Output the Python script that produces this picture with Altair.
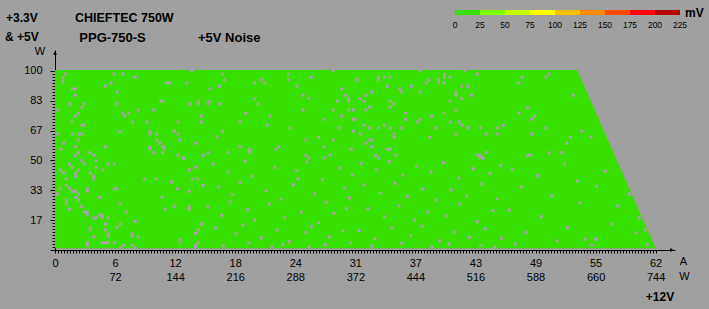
import altair as alt
import pandas as pd

# ---------------- data ----------------
amp_labels = ["0", "6", "12", "18", "24", "31", "37", "43", "49", "55", "62"]
watt12_labels = ["", "72", "144", "216", "288", "372", "444", "516", "588", "660", "744"]
w5_labels = ["17", "33", "50", "67", "83", "100"]

# tested region: +12V current limit at the bottom and top +3.3V&+5V load
edge_w = [1.0, 100.6]
edge_a = [62.0, 53.9]

# noise colour scale (mV)
legend_mv = [0, 25, 50, 75, 100, 125, 150, 175, 200, 225]
legend_colors = ["#38de00", "#80ff00", "#c0ff00", "#ffff00", "#ffc000",
                 "#ff8c00", "#ff4800", "#ff0000", "#b40000"]

# gray (missing) measurement points, (A, W)
specks_ul = [(1.1,98.3),(0.8,96.1),(0.8,93.9),(6.1,98.3),(7.0,98.3),(8.3,96.5),(5.8,93.3),(5.2,91.5),
    (11.5,93.3),(11.8,93.3),(13.6,93.3),(14.1,100.2),(1.8,90.0),(2.1,90.0),(2.1,86.4),(6.4,88.3),
    (10.9,83.1),(11.1,83.1),(14.8,83.1),(14.8,81.6),(13.9,81.6),(1.5,81.6),(3.0,81.6),(2.8,79.7),
    (6.4,81.6),(0.3,78.2),(2.4,76.4),(2.1,74.7),(7.0,76.4),(7.2,74.7),(7.6,76.4),(8.6,78.2),
    (10.2,78.2),(1.8,71.5),(2.8,69.7),(3.0,69.7),(8.0,71.5),(9.5,71.5),(12.7,71.5),(15.1,74.7),
    (15.1,71.5),(6.7,66.3),(9.8,66.3),(9.8,64.8),(12.3,66.3),(12.7,64.8),(0.3,64.8),(1.8,64.8),
    (2.5,64.8),(2.8,64.8),(10.5,64.8),(2.4,61.5),(10.5,61.5),(12.9,61.5),(0.9,59.6),(10.8,59.6),
    (11.1,57.7),(11.3,57.7),(11.3,56.3),(14.5,59.6),(2.1,57.7),(5.2,57.7),(9.8,57.7),(9.8,56.3),
    (0.6,56.3),(2.4,54.4),(3.6,54.4),(10.2,54.4),(11.1,54.4),(2.1,52.9),(4.0,52.9),(12.7,52.9),
    (13.3,51.4),(15.3,52.9)]
specks_um = [(17.3,98.3),(17.5,95.0),(17.0,91.5),(16.0,90.0),(20.6,93.3),(21.3,95.0),(21.6,93.3),
    (24.1,98.3),(24.1,95.0),(25.0,91.5),(26.5,96.5),(28.7,100.2),(29.6,90.0),(30.0,86.4),(30.3,84.6),
    (30.3,83.1),(29.1,83.1),(16.0,83.1),(15.8,81.6),(17.0,81.6),(20.6,84.6),(21.0,81.6),(25.6,86.4),
    (26.2,84.6),(19.7,76.4),(19.1,71.5),(22.2,74.7),(21.9,69.7),(25.6,78.2),(28.7,78.2),(30.3,78.2),
    (30.8,78.2),(27.8,73.0),(29.6,74.7),(30.8,73.0),(24.3,68.2),(29.3,68.2),(17.3,66.3),(16.7,63.0),
    (30.8,66.3),(27.2,63.0),(25.9,61.5),(28.7,61.5),(19.1,57.7),(20.1,56.3),(20.1,54.8),(22.8,56.3),
    (23.1,57.7),(27.8,57.7),(15.8,54.4),(17.9,54.4),(30.6,56.3),(25.9,52.9),(26.2,51.4),(27.8,51.4),
    (28.4,52.9)]
specks_ur = [(31.2,95.0),(33.4,96.5),(33.4,95.0),(34.0,96.5),(34.6,96.5),(37.7,100.2),(40.2,98.3),
    (40.2,96.5),(40.8,96.5),(42.3,100.2),(43.6,98.3),(38.3,93.3),(38.6,95.0),(39.6,95.0),(39.6,93.3),
    (40.2,93.3),(34.3,91.5),(35.6,90.0),(35.8,88.3),(36.8,91.5),(37.7,88.3),(42.0,91.5),(42.6,91.5),
    (41.4,88.3),(41.4,86.4),(42.0,84.6),(43.0,86.4),(32.7,88.3),(32.1,86.4),(31.5,84.6),(31.9,83.1),
    (34.6,83.1),(35.0,81.6),(34.6,79.7),(32.5,79.7),(32.1,78.2),(36.2,76.4),(36.2,73.0),(37.7,73.0),
    (37.4,71.5),(38.9,74.7),(40.2,76.4),(41.4,78.2),(40.8,83.1),(31.0,73.0),(31.9,69.7),(32.5,68.2),
    (33.4,68.2),(34.0,69.7),(34.6,68.2),(35.8,68.2),(40.8,71.5),(41.7,71.5),(42.0,69.7),(42.6,68.2),
    (43.9,68.2),(45.7,68.2),(46.3,69.7),(39.3,68.2),(31.5,64.8),(35.0,64.8),(35.0,63.0),(38.7,63.0),
    (41.4,64.8),(44.5,64.8),(45.7,64.8),(32.5,61.5),(32.7,61.5),(32.1,59.6),(32.7,57.7),(34.3,56.3),
    (34.6,56.3),(33.1,52.9),(33.4,51.4),(35.2,52.9),(44.5,54.4),(43.6,52.9),(43.9,52.9),(43.9,51.4),
    (44.2,51.4),
    (48.2,96.5),(50.7,96.5),(51.0,98.3),(47.9,93.3),(53.5,86.4),(48.8,79.7),(47.9,76.4),(49.5,74.7),
    (49.2,73.0),(50.7,68.2),(54.4,66.3),(49.2,64.8),(53.2,63.0),(55.3,63.0),(52.8,59.6),(51.0,54.4),
    (52.3,54.4),(48.8,52.9),(49.1,52.9)]
specks_ll = [(2.75,49.9),(4.26,49.9),(5.5,48.0),(6.12,48.0),(1.51,48.0),(3.02,48.0),(13.23,51.4),
    (1.79,46.2),(4.26,46.2),(0.55,44.7),(2.41,44.7),(4.88,44.7),(0.89,43.0),(2.13,43.0),(2.13,41.2),
    (3.64,43.0),(3.99,41.2),(3.99,39.7),(1.17,39.7),(9.21,39.7),(10.45,39.7),(12.03,38.0),(14.16,39.7),
    (14.78,39.7),(13.88,44.7),(14.5,46.2),(1.17,36.1),(0.55,34.3),(1.51,34.3),(1.79,32.8),(2.13,32.8),
    (3.33,34.3),(3.33,32.8),(6.12,34.3),(6.39,34.3),(12.65,34.3),(13.85,32.8),(15.29,36.1),(0.27,31.3),
    (2.41,31.3),(2.13,29.4),(4.6,29.4),(11.07,29.4),(1.17,27.9),(1.17,26.1),(2.41,27.9),(6.74,26.1),
    (2.75,24.4),(1.51,22.7),(7.35,21.2),(11.34,22.7),(12.3,24.4),(13.85,24.4),(13.85,22.7),(3.02,21.2),
    (3.33,21.2),(3.33,19.4),(4.6,19.4),(4.88,19.4),(3.99,17.9),(4.26,17.9),(4.88,17.9),(5.5,17.9),
    (8.32,16.0),(5.22,14.5),(6.74,14.5),(6.39,12.7),(3.64,12.7),(3.64,11.2),(5.22,11.2),(5.5,9.3),
    (5.5,7.8),(3.99,7.4),(7.97,9.3),(7.97,7.8),(8.59,7.4),(15.12,14.5),(14.78,11.2),(14.5,9.3),
    (12.92,6.0),(12.92,4.5),(4.88,4.1),(5.22,4.1),(5.5,4.1),(6.12,4.1),(3.33,4.1),(3.33,2.6),
    (7.04,2.6),(6.74,1.1),(7.97,2.6),(8.32,1.1),(14.5,2.6),(14.5,1.1),(14.78,4.1)]
specks_lm = [(16.3,47.9),(17.9,43.6),(19.6,49.6),(20.4,41.2),(22.7,46.1),(24.9,44.3),(26.0,49.1),
    (27.6,39.4),(29.4,45.8),(30.7,42.0),(16.9,35.2),(18.3,30.9),(19.1,37.7),(21.8,33.0),(23.3,28.4),
    (24.6,36.6),(26.8,31.4),(28.0,26.7),(29.9,34.8),(30.4,29.1),(15.8,24.0),(17.2,19.3),(19.9,22.5),
    (20.6,16.8),(22.1,25.6),(23.7,18.1),(25.4,21.0),(27.2,15.3),(28.8,20.4),(30.1,23.3),(16.6,12.2),
    (18.7,9.1),(19.4,13.8),(21.3,6.9),(22.9,11.3),(24.2,4.6),(25.9,9.8),(26.5,13.1),(28.3,7.4),
    (29.7,10.6),(17.4,2.4),(20.0,3.9),(22.4,1.8),(23.5,3.1),(26.2,1.6),(27.9,2.9),(30.5,4.2),
    (18.1,26.9),(25.1,39.8),
    (31.6,48.3),(33.2,44.9),(34.5,49.4),(35.9,41.8),(37.3,46.7),(38.8,43.5),(40.1,48.8),(41.7,40.1),
    (43.2,45.4),(44.9,42.7),(46.0,47.2),(31.9,36.3),(33.6,31.7),(35.1,37.2),(36.4,29.8),(38.0,34.1),
    (39.4,27.9),(40.9,33.6),(42.5,30.2),(44.1,36.9),(45.6,28.5),(32.3,23.1),(34.0,18.6),(35.5,24.8),
    (37.1,16.9),(38.5,21.4),(40.4,19.2),(41.8,25.5),(43.6,15.8),(45.2,22.0),(31.4,10.9),(33.0,6.4),
    (34.8,12.6),(36.7,8.1),(37.9,13.3),(39.7,5.2),(41.2,10.1),(42.8,7.0),(44.4,11.8),(46.1,6.6),
    (32.7,2.2),(35.8,3.7),(38.9,1.9),(40.7,3.4),(43.9,2.6),(45.4,1.7)]
specks_lr = [(59.3,31.3),(58.1,24.6),(60.3,17.9),(57.5,14.5),(60.9,11.2),(60.0,9.5),(54.7,6.1),
    (55.7,6.1),(55.9,6.1),(55.4,2.8),(61.2,2.8),(54.2,26.3),(47.2,45.0),(49.8,41.5),(52.6,47.8),
    (48.1,35.2),(51.3,30.4),(53.9,38.6),(46.9,22.3),(50.2,18.7),(52.9,12.6),(48.6,9.8),(47.5,3.3),
    (51.8,5.1),(56.8,44.0),(55.9,35.5)]

# ---------------- styling ----------------
BG = "#a0a0a0"
GREEN = "#38e000"
SPECK = "#a7a1a8"
FONT = "Liberation Sans"

region = pd.DataFrame({"w": edge_w, "a": edge_a})
specks = pd.DataFrame(specks_ul + specks_um + specks_ur + specks_ll + specks_lm + specks_lr,
                      columns=["a", "w"])

x_ticks = [round(i * 6.2 / 20, 4) for i in range(201)]
y_ticks = [round(i * (100 / 6) / 10, 4) for i in range(61)]


def arr(lst):
    return "[" + ",".join("'" + s + "'" for s in lst) + "]"


x_major = "abs(datum.value/6.2 - round(datum.value/6.2)) < 0.001"
x_label = (f"{x_major} ? [{arr(amp_labels)}[round(datum.value/6.2)], "
           f"{arr(watt12_labels)}[round(datum.value/6.2)]] : ''")
y_major = "abs(datum.value*0.06 - round(datum.value*0.06)) < 0.001"
y_label = f"({y_major}) && datum.value > 1 ? {arr(w5_labels)}[round(datum.value*0.06)-1] : ''"

x_scale = alt.Scale(domain=[0, 64.0], nice=False, zero=False)
y_scale = alt.Scale(domain=[0, 111.7], nice=False, zero=False)

x_axis = alt.Axis(values=x_ticks, tickCount=1000, labelExpr=x_label, tickSize=3, labelPadding=4,
                  labelLineHeight=14.5, labelFlush=False, labelOverlap=False, title=None,
                  grid=False, domainColor="black", tickColor="black", labelColor="black",
                  labelFont=FONT, labelFontSize=11, labelBaseline="top")
y_axis = alt.Axis(values=y_ticks, tickCount=1000, labelExpr=y_label,
                  tickSize={"condition": {"test": y_major, "value": 5}, "value": 3},
                  labelPadding=8, labelFlush=False, labelOverlap=False, title=None, grid=False,
                  domainColor="black", tickColor="black", labelColor="black",
                  labelFont=FONT, labelFontSize=11)

area = alt.Chart(region).mark_area(orient="horizontal", color=GREEN, opacity=1).encode(
    y=alt.Y("w:Q", scale=y_scale, axis=y_axis),
    x=alt.X("a:Q", scale=x_scale, axis=x_axis),
    x2=alt.datum(0),
)
dots = alt.Chart(specks).mark_square(size=9, color=SPECK, opacity=1).encode(
    x=alt.X("a:Q"), y=alt.Y("w:Q"))

one = pd.DataFrame({"k": [0]})


def txt(text, x, y, size=12, bold=True, align="left"):
    return alt.Chart(pd.DataFrame({"t": [text]})).mark_text(
        font=FONT, fontSize=size, fontWeight="bold" if bold else "normal",
        align=align, baseline="middle", color="black").encode(
        x=alt.value(x), y=alt.value(y), text="t:N")


texts = [
    txt("+3.3V", -49, -32.5, 12),
    txt("& +5V", -50, -13.3, 12),
    txt("CHIEFTEC 750W", 20, -32, 12.5),
    txt("PPG-750-S", 24.3, -12, 13),
    txt("+5V Noise", 143, -12, 13),
    txt("mV", 630, -37.5, 12),
    txt("W", -15, 2, 11, bold=False, align="center"),
    txt("A", 628.5, 212, 11, bold=False, align="center"),
    txt("W", 629.5, 226.5, 11, bold=False, align="center"),
    txt("+12V", 605, 247.3, 12, align="center"),
]

arrow_y = alt.Chart(one).mark_point(shape="triangle-up", filled=True, size=16,
                                    color="black", opacity=1).encode(
    x=alt.value(0), y=alt.value(3))
arrow_x = alt.Chart(one).mark_point(shape="triangle-right", filled=True, size=16,
                                    color="black", opacity=1).encode(
    x=alt.value(617), y=alt.value(200))

main = alt.layer(area, dots, arrow_y, arrow_x, *texts)

leg_scale = alt.Scale(domain=[-400, 220], nice=False, zero=False)
leg_df = pd.DataFrame({"lo": legend_mv[:-1], "hi": legend_mv[1:], "color": legend_colors})
leg_rect = alt.Chart(leg_df).mark_rect().encode(
    x=alt.X("lo:Q", scale=leg_scale, axis=None), x2="hi:Q",
    y=alt.value(-40), y2=alt.value(-35),
    color=alt.Color("color:N", scale=None))
leg_text = alt.Chart(pd.DataFrame({"mv": [str(v) for v in legend_mv],
                                   "pos": legend_mv})).mark_text(
    font=FONT, fontSize=8.5, baseline="middle", align="center", color="black").encode(
    x=alt.X("pos:Q", scale=leg_scale, axis=None), y=alt.value(-25), text="mv:N")
legend = alt.layer(leg_rect, leg_text)

chart = alt.layer(main, legend).resolve_scale(x="independent").properties(
    width=620, height=200, background=BG,
    padding={"left": 55, "top": 50, "right": 34, "bottom": 59},
    autosize=alt.AutoSizeParams(type="none"),
).configure_view(stroke=None)

chart.save("out.html", embed_options={"renderer": "svg", "actions": False})
